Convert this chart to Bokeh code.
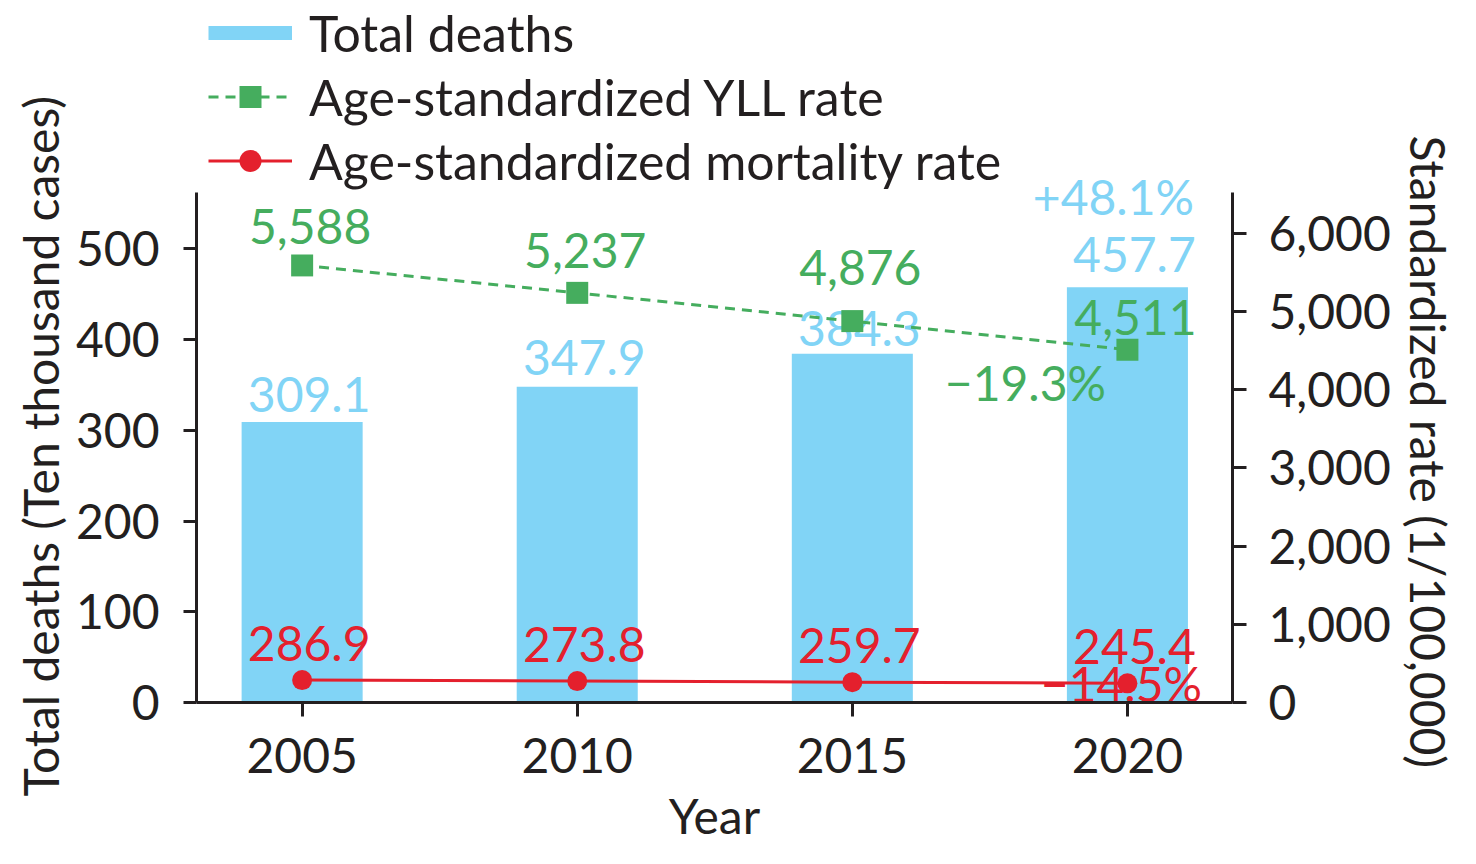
import math
from bokeh.plotting import figure
from bokeh.models import (Range1d, LinearAxis, FixedTicker, NumeralTickFormatter,
                          Legend, LegendItem, ColumnDataSource, Title)
from bokeh.core.properties import value
from bokeh.embed import file_html
from bokeh.resources import INLINE

# ---------------- data ----------------
years = [2005, 2010, 2015, 2020]
total_deaths = [309.1, 347.9, 384.3, 457.7]          # ten thousand cases
yll_rate = [5588, 5237, 4876, 4511]                  # per 100,000
mortality_rate = [286.9, 273.8, 259.7, 245.4]        # per 100,000
deaths_labels = ["309.1", "347.9", "384.3", "457.7"]
yll_labels = ["5,588", "5,237", "4,876", "4,511"]
mort_labels = ["286.9", "273.8", "259.7", "245.4"]
change_deaths = "+48.1%"
change_yll = "\u221219.3%"
change_mort = "\u221214.5%"
left_ticks = [0, 100, 200, 300, 400, 500]
right_ticks = [0, 1000, 2000, 3000, 4000, 5000, 6000]
left_max = 562        # top of the left axis
right_max = 6520      # top of the right axis
left_title = "Total deaths (Ten thousand cases)"
right_title = "Standardized rate (1/100,000)"

# ---------------- style / layout ----------------
BLUE = "#81D4F6"
GREEN = "#45AD5E"
RED = "#E4202D"
TXT = "#231F20"
FONT = "Lato"
FS = "48px"
FS_LEGEND = "50px"
W, H = 1460, 848
AX_TOP, AX_BOTTOM = 192, 702        # pixel extent of the axes
deaths_dy = [-28, -29, -25, -33]
yll_dy = [-39, -42, -54, -32]
mort_dy = [-37, -37, -37, -37]

px_per_left = (AX_BOTTOM - AX_TOP) / left_max
px_per_right = (AX_BOTTOM - AX_TOP) / right_max

src = ColumnDataSource(dict(x=years, deaths=total_deaths, yll=yll_rate, mort=mortality_rate,
                            dl=deaths_labels, yl=yll_labels, ml=mort_labels,
                            ddy=deaths_dy, ydy=yll_dy, mdy=mort_dy))

# the frame reaches the top of the canvas so that the legend can sit above the axes
p = figure(width=W, height=H, x_range=Range1d(2003.08, 2021.91),
           y_range=Range1d(0, AX_BOTTOM / px_per_left),
           output_backend="svg", toolbar_location=None,
           min_border_left=196, min_border_right=227, min_border_top=0,
           min_border_bottom=H - AX_BOTTOM)
p.extra_y_ranges = {"rate": Range1d(0, AX_BOTTOM / px_per_right)}
p.outline_line_color = None
p.xgrid.visible = False
p.ygrid.visible = False
p.background_fill_color = "white"
p.border_fill_color = "white"


def style_axis(ax, tick_out, standoff, label_standoff=0):
    ax.axis_line_width = 3
    ax.axis_line_color = TXT
    ax.major_tick_line_width = 3
    ax.major_tick_line_color = TXT
    ax.major_tick_out = tick_out
    ax.major_tick_in = 0
    ax.minor_tick_line_color = None
    ax.major_label_text_font = FONT
    ax.major_label_text_font_size = FS
    ax.major_label_text_color = TXT
    ax.major_label_standoff = standoff
    ax.axis_label_text_font = FONT
    ax.axis_label_text_font_size = FS
    ax.axis_label_text_font_style = "normal"
    ax.axis_label_text_color = TXT
    ax.axis_label_standoff = label_standoff


# x axis
xa = p.xaxis[0]
xa.ticker = FixedTicker(ticks=years)
xa.axis_label = "Year"
style_axis(xa, 14, 21, 11)

# left axis (line limited to the data range)
ya = p.yaxis[0]
ya.ticker = FixedTicker(ticks=left_ticks)
ya.bounds = (0, left_max)
style_axis(ya, 13, 24)

# right axis
ra = LinearAxis(y_range_name="rate", ticker=FixedTicker(ticks=right_ticks),
                formatter=NumeralTickFormatter(format="0,0"), bounds=(0, right_max))
style_axis(ra, 14, 22)
p.add_layout(ra, "right")

# axis titles, placed along the data part of the axes
p.add_layout(Title(text=left_title, align="left", offset=AX_BOTTOM - 796, standoff=4,
                   vertical_align="top", text_font=FONT, text_font_size=FS,
                   text_font_style="normal", text_color=TXT), "left")
p.add_layout(Title(text=right_title, align="left", offset=135, standoff=8,
                   vertical_align="top", text_font=FONT, text_font_size=FS,
                   text_font_style="normal", text_color=TXT), "right")

# bars + labels
bars = p.vbar(x="x", top="deaths", width=2.2, fill_color=BLUE, line_color=None, source=src)
p.text(x="x", y="deaths", text="dl", x_offset=7, y_offset="ddy", text_align="center",
       text_baseline="alphabetic", text_font=value(FONT), text_font_size=FS,
       text_color=BLUE, source=src)

# YLL line
g_line = p.line(x="x", y="yll", y_range_name="rate", line_color=GREEN, line_width=3,
                line_dash="10 7", source=src)
g_pts = p.scatter(x="x", y="yll", y_range_name="rate", marker="square", size=22,
                  fill_color=GREEN, line_color=None, source=src)

# mortality line
r_line = p.line(x="x", y="mort", y_range_name="rate", line_color=RED, line_width=3, source=src)
r_pts = p.scatter(x="x", y="mort", y_range_name="rate", marker="circle", size=20,
                  fill_color=RED, line_color=None, source=src)

p.text(x="x", y="yll", text="yl", x_offset=8, y_offset="ydy", y_range_name="rate",
       text_align="center", text_baseline="alphabetic", text_font=value(FONT),
       text_font_size=FS, text_color=GREEN, source=src)
p.text(x="x", y="mort", text="ml", x_offset=7, y_offset="mdy", y_range_name="rate",
       text_align="center", text_baseline="alphabetic", text_font=value(FONT),
       text_font_size=FS, text_color=RED, source=src)

# change annotations anchored at the last point of each series
last = ColumnDataSource(dict(x=[years[-1]], d=[total_deaths[-1]], y=[yll_rate[-1]],
                             m=[mortality_rate[-1]], cd=[change_deaths], cy=[change_yll],
                             cm=[change_mort]))
p.text(x="x", y="d", text="cd", x_offset=-14, y_offset=-91, text_align="center",
       text_baseline="alphabetic", text_font=value(FONT), text_font_size=FS,
       text_color=BLUE, source=last)
p.text(x="x", y="y", text="cy", x_offset=-102, y_offset=33, y_range_name="rate",
       text_align="center", text_baseline="alphabetic", text_font=value(FONT),
       text_font_size=FS, text_color=GREEN, source=last)
p.text(x="x", y="m", text="cm", x_offset=-6, y_offset=0, y_range_name="rate",
       text_align="center", text_baseline="alphabetic", text_font=value(FONT),
       text_font_size=FS, text_color=RED, source=last)

# legend key for the bars: a thick swatch line over the same data, hidden in the plot
bar_key = p.line(x="x", y="deaths", source=src, line_color=BLUE, line_width=14, visible=False)

legend = Legend(items=[LegendItem(label="Total deaths", renderers=[bar_key]),
                       LegendItem(label="Age-standardized YLL rate", renderers=[g_line, g_pts]),
                       LegendItem(label="Age-standardized mortality rate", renderers=[r_line, r_pts])],
                location=(12, 511), orientation="vertical",
                glyph_width=84, glyph_height=55, label_height=61, spacing=3,
                label_standoff=17, padding=0, margin=0, border_line_color=None,
                background_fill_alpha=0, inactive_fill_alpha=0, label_text_font=FONT,
                label_text_font_size=FS_LEGEND, label_text_color=TXT)
p.add_layout(legend, "center")

open("out.html", "w").write(file_html(p, INLINE))
